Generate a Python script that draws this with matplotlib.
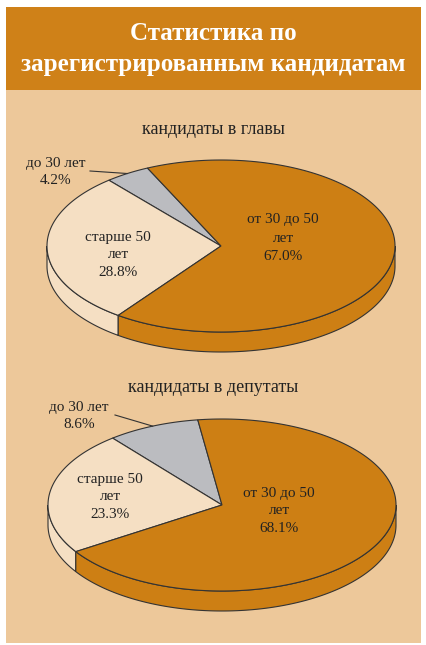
import matplotlib.pyplot as plt
import numpy as np
from matplotlib.patches import Polygon, Rectangle

plt.rcParams['font.family'] = ['Liberation Serif', 'DejaVu Serif']

title = 'Статистика по\nзарегистрированным кандидатам'
groups = ['кандидаты в главы', 'кандидаты в депутаты']
categories = ['до 30 лет', 'старше 50\nлет', 'от 30 до 50\nлет']
shares = [
    [4.2, 28.8, 67.0],
    [8.6, 23.3, 68.1],
]
start_angles = [115, 98]

colors = ['#BBBCC0', '#F5DFC3', '#CD7F14']
edge = '#333333'
tan = '#EDC89A'
header_col = '#CF8118'

fig = plt.figure(figsize=(4.27, 6.45), dpi=100, facecolor='white')
ax = fig.add_axes([0, 0, 1, 1])
ax.set_xlim(0, 427)
ax.set_ylim(645, 0)
ax.axis('off')

# background panel + header band
ax.add_patch(Rectangle((6, 90), 415, 553, facecolor=tan, edgecolor='none'))
ax.add_patch(Rectangle((6, 7), 415, 83, facecolor=header_col, edgecolor='none'))
ax.text(213, 49, title, ha='center', va='center', color='white',
        fontsize=18, fontweight='bold', linespacing=1.45)

# pie geometry (pixels)
centers = [(221, 246), (222, 505)]
titles_y = [130, 387]
a, b, depth = 174, 86, 20
inner_pos = [[(118, 255), (283, 238)], [(110, 497), (279, 511)]]
outer_pos = [(56, 172), (79, 416)]
leader_start = [(90, 171), (115, 415)]


def arc(cx, cy, t1, t2, n=200):
    t = np.radians(np.linspace(t1, t2, n))
    return cx + a * np.cos(t), cy - b * np.sin(t)


for k in range(2):
    cx, cy = centers[k]
    vals = np.array(shares[k])
    spans = vals / vals.sum() * 360
    bounds = start_angles[k] + np.concatenate([[0], np.cumsum(spans)])

    # rim (front half only: angles 180..360 mod 360)
    for i in range(len(vals)):
        t1, t2 = bounds[i], bounds[i + 1]
        for off in (-360, 0, 360):
            lo, hi = max(t1 + off, 180), min(t2 + off, 360)
            if hi > lo:
                x, y = arc(cx, cy, lo, hi)
                pts = np.column_stack([np.concatenate([x, x[::-1]]),
                                       np.concatenate([y, y[::-1] + depth])])
                ax.add_patch(Polygon(pts, closed=True, facecolor=colors[i],
                                     edgecolor=edge, lw=0.8, zorder=2))

    # top faces
    for i in range(len(vals)):
        x, y = arc(cx, cy, bounds[i], bounds[i + 1])
        pts = np.column_stack([np.concatenate([[cx], x]),
                               np.concatenate([[cy], y])])
        ax.add_patch(Polygon(pts, closed=True, facecolor=colors[i],
                             edgecolor=edge, lw=0.8, zorder=3))

    ax.text(213, titles_y[k], groups[k], ha='center', va='center',
            fontsize=13, color='#222222')

    # inner labels
    for j, i in enumerate([1, 2]):
        px, py = inner_pos[k][j]
        ax.text(px, py, f'{categories[i]}\n{vals[i]:.1f}%', ha='center',
                va='center', fontsize=11, color='#222222',
                linespacing=1.5, zorder=4)

    # outer label with leader
    px, py = outer_pos[k]
    ax.text(px, py, f'{categories[0]}\n{vals[0]:.1f}%', ha='center',
            va='center', fontsize=11, color='#222222', linespacing=1.5)
    mid = np.radians((bounds[0] + bounds[1]) / 2)
    ex, ey = cx + a * np.cos(mid), cy - b * np.sin(mid)
    sx, sy = leader_start[k]
    ax.plot([sx, ex], [sy, ey], color=edge, lw=0.8, zorder=4)

fig.savefig('out.png', dpi=100, facecolor='white')
